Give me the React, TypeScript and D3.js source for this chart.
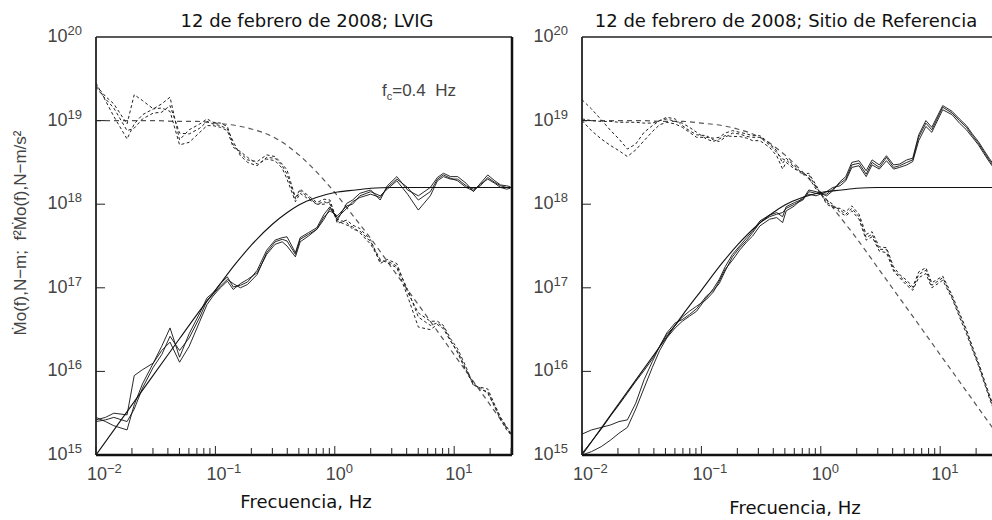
import * as React from 'react';
import * as d3 from 'd3';

// LVIG station: frequencies (Hz) and log10 amplitudes
const lvigFreq = [0.01, 0.012, 0.0141, 0.0182, 0.0209, 0.0245, 0.0302, 0.0355, 0.0417, 0.0501, 0.0603, 0.0741, 0.0851, 0.0955, 0.11, 0.126, 0.141, 0.162, 0.186, 0.224, 0.269, 0.316, 0.363, 0.398, 0.468, 0.513, 0.603, 0.708, 0.813, 0.912, 1.05, 1.26, 1.41, 1.62, 2.0, 2.4, 2.75, 3.31, 4.07, 5.01, 6.31, 7.24, 8.13, 9.33, 10.7, 12.6, 14.5, 16.6, 19.1, 21.9, 24.5, 27.5, 29.5];
// f²Ṁo(f), three components
const lvigAccA = [15.42, 15.45, 15.5, 15.48, 15.95, 16.02, 16.1, 16.3, 16.52, 16.17, 16.45, 16.7, 16.88, 16.94, 17.05, 17.13, 17.01, 17.03, 17.07, 17.21, 17.45, 17.57, 17.6, 17.61, 17.42, 17.6, 17.66, 17.72, 17.88, 17.97, 17.81, 18.01, 18.05, 18.13, 18.17, 18.05, 18.22, 18.33, 18.17, 18.1, 18.2, 18.32, 18.37, 18.33, 18.33, 18.25, 18.15, 18.25, 18.35, 18.28, 18.23, 18.22, 18.21];
const lvigAccB = [15.45, 15.4, 15.35, 15.3, 15.6, 15.85, 16.1, 16.25, 16.35, 16.11, 16.3, 16.6, 16.8, 16.9, 17.0, 17.08, 16.98, 17.05, 17.1, 17.18, 17.4, 17.52, 17.55, 17.5, 17.37, 17.55, 17.62, 17.7, 17.85, 17.92, 17.86, 17.98, 18.0, 18.1, 18.15, 18.1, 18.18, 18.28, 18.12, 17.93, 18.1, 18.28, 18.33, 18.3, 18.3, 18.22, 18.18, 18.22, 18.32, 18.26, 18.22, 18.2, 18.2];
const lvigAccC = [15.4, 15.42, 15.45, 15.4, 15.55, 15.8, 16.05, 16.2, 16.42, 16.25, 16.4, 16.65, 16.85, 16.92, 17.02, 17.1, 17.05, 17.0, 17.04, 17.16, 17.42, 17.55, 17.58, 17.56, 17.4, 17.58, 17.64, 17.7, 17.82, 17.95, 17.84, 17.95, 18.03, 18.08, 18.12, 18.08, 18.2, 18.3, 18.2, 18.05, 18.15, 18.3, 18.35, 18.31, 18.28, 18.2, 18.16, 18.24, 18.3, 18.25, 18.2, 18.18, 18.19];
// Ṁo(f), three components
const lvigDispA = [19.42, 19.29, 19.2, 18.96, 19.31, 19.24, 19.14, 19.2, 19.28, 18.77, 18.89, 18.96, 19.02, 18.98, 18.97, 18.93, 18.71, 18.61, 18.53, 18.51, 18.59, 18.57, 18.48, 18.41, 18.08, 18.18, 18.1, 18.02, 18.06, 18.05, 17.77, 17.81, 17.75, 17.71, 17.57, 17.29, 17.34, 17.29, 16.95, 16.7, 16.6, 16.6, 16.55, 16.39, 16.27, 16.05, 15.83, 15.81, 15.79, 15.6, 15.45, 15.34, 15.27];
const lvigDispB = [19.45, 19.24, 19.05, 18.78, 18.96, 19.07, 19.14, 19.15, 19.11, 18.71, 18.74, 18.86, 18.94, 18.94, 18.92, 18.88, 18.68, 18.63, 18.56, 18.48, 18.54, 18.52, 18.43, 18.3, 18.03, 18.13, 18.06, 18.0, 18.03, 18.0, 17.82, 17.78, 17.7, 17.68, 17.55, 17.34, 17.3, 17.24, 16.9, 16.53, 16.5, 16.56, 16.51, 16.36, 16.24, 16.02, 15.86, 15.78, 15.76, 15.58, 15.44, 15.32, 15.26];
const lvigDispC = [19.4, 19.26, 19.15, 18.88, 18.91, 19.02, 19.09, 19.1, 19.18, 18.85, 18.84, 18.91, 18.99, 18.96, 18.94, 18.9, 18.75, 18.58, 18.5, 18.46, 18.56, 18.55, 18.46, 18.36, 18.06, 18.16, 18.08, 18.0, 18.0, 18.03, 17.8, 17.75, 17.73, 17.66, 17.52, 17.32, 17.32, 17.26, 16.98, 16.65, 16.55, 16.58, 16.53, 16.37, 16.22, 16.0, 15.84, 15.8, 15.74, 15.57, 15.42, 15.3, 15.25];

// reference site
const refFreq = [0.01, 0.012, 0.0145, 0.0174, 0.0204, 0.024, 0.0282, 0.0331, 0.0389, 0.0447, 0.0513, 0.0603, 0.0692, 0.0794, 0.0912, 0.11, 0.126, 0.141, 0.158, 0.182, 0.209, 0.24, 0.269, 0.309, 0.372, 0.427, 0.479, 0.513, 0.603, 0.708, 0.794, 0.912, 1.12, 1.26, 1.45, 1.62, 1.82, 2.09, 2.4, 2.69, 3.09, 3.55, 4.07, 4.57, 5.25, 5.89, 6.61, 7.59, 8.51, 10.5, 12.6, 14.5, 16.6, 18.6, 20.9, 22.9, 25.7, 28.2, 30.9];
const refAccA = [15.02, 15.16, 15.31, 15.47, 15.6, 15.74, 15.88, 16.01, 16.15, 16.3, 16.46, 16.58, 16.62, 16.68, 16.75, 16.9, 16.97, 17.05, 17.2, 17.37, 17.48, 17.57, 17.66, 17.78, 17.85, 17.88, 17.9, 17.95, 18.0, 18.05, 18.15, 18.13, 18.12, 18.18, 18.25, 18.3, 18.47, 18.49, 18.36, 18.5, 18.44, 18.56, 18.44, 18.46, 18.5, 18.53, 18.8, 18.97, 18.89, 19.16, 19.09, 19.0, 18.92, 18.82, 18.73, 18.64, 18.53, 18.45, 18.38];
const refAccB = [15.25, 15.3, 15.33, 15.36, 15.4, 15.42, 15.62, 15.9, 16.12, 16.3, 16.44, 16.55, 16.65, 16.72, 16.78, 16.86, 16.95, 17.08, 17.22, 17.33, 17.45, 17.55, 17.62, 17.74, 17.82, 17.84, 17.78, 17.92, 17.98, 18.08, 18.12, 18.1, 18.15, 18.2, 18.22, 18.28, 18.44, 18.46, 18.33, 18.47, 18.42, 18.52, 18.42, 18.44, 18.47, 18.51, 18.76, 18.93, 18.86, 19.13, 19.07, 18.97, 18.89, 18.8, 18.71, 18.62, 18.51, 18.43, 18.36];
const refAccC = [15.0, 15.04, 15.1, 15.18, 15.26, 15.33, 15.55, 15.8, 16.05, 16.25, 16.4, 16.52, 16.6, 16.66, 16.72, 16.88, 16.99, 17.1, 17.25, 17.4, 17.5, 17.6, 17.68, 17.8, 17.87, 17.9, 17.85, 17.97, 18.02, 18.06, 18.17, 18.15, 18.1, 18.16, 18.27, 18.33, 18.5, 18.52, 18.4, 18.53, 18.47, 18.58, 18.47, 18.48, 18.53, 18.55, 18.83, 19.0, 18.92, 19.18, 19.11, 19.02, 18.94, 18.84, 18.75, 18.66, 18.55, 18.47, 18.4];
const refDispA = [19.02, 19.0, 18.99, 18.99, 18.98, 18.98, 18.98, 18.97, 18.97, 19.0, 19.04, 19.02, 18.94, 18.88, 18.83, 18.82, 18.77, 18.75, 18.8, 18.85, 18.84, 18.81, 18.8, 18.8, 18.71, 18.62, 18.54, 18.53, 18.44, 18.35, 18.35, 18.21, 18.02, 17.98, 17.93, 17.88, 17.95, 17.85, 17.6, 17.64, 17.46, 17.46, 17.22, 17.14, 17.06, 16.99, 17.16, 17.21, 17.03, 17.12, 16.89, 16.68, 16.48, 16.28, 16.09, 15.92, 15.71, 15.55, 15.4];
const refDispB = [19.25, 19.14, 19.01, 18.88, 18.78, 18.66, 18.72, 18.86, 18.94, 19.0, 19.02, 18.99, 18.97, 18.92, 18.86, 18.78, 18.75, 18.78, 18.82, 18.81, 18.81, 18.79, 18.76, 18.76, 18.68, 18.58, 18.42, 18.5, 18.42, 18.38, 18.32, 18.18, 18.05, 18.0, 17.9, 17.86, 17.92, 17.82, 17.57, 17.61, 17.44, 17.42, 17.2, 17.12, 17.03, 16.97, 17.12, 17.17, 17.0, 17.09, 16.87, 16.65, 16.45, 16.26, 16.07, 15.9, 15.69, 15.53, 15.38];
const refDispC = [19.0, 18.88, 18.78, 18.7, 18.64, 18.57, 18.65, 18.76, 18.87, 18.95, 18.98, 18.96, 18.92, 18.86, 18.8, 18.8, 18.79, 18.8, 18.85, 18.88, 18.86, 18.84, 18.82, 18.82, 18.73, 18.64, 18.49, 18.55, 18.46, 18.36, 18.37, 18.23, 18.0, 17.96, 17.95, 17.91, 17.98, 17.88, 17.64, 17.67, 17.49, 17.48, 17.25, 17.16, 17.09, 17.01, 17.19, 17.24, 17.06, 17.14, 16.91, 16.7, 16.5, 16.3, 16.11, 15.94, 15.73, 15.57, 15.42];

// Brune model, fc = 0.4 Hz (same in both panels)
const modelFreq = [0.01, 0.02, 0.03, 0.05, 0.07, 0.1, 0.15, 0.2, 0.3, 0.4, 0.5, 0.7, 1, 1.5, 2, 3, 5, 7, 10, 15, 20, 30];
const modelDisp = [19.0, 19.0, 19.0, 18.99, 18.99, 18.97, 18.94, 18.9, 18.81, 18.7, 18.59, 18.39, 18.14, 17.82, 17.59, 17.24, 16.8, 16.51, 16.2, 15.85, 15.6, 15.25];
const modelAcc = [15.0, 15.6, 15.95, 16.39, 16.68, 16.97, 17.3, 17.51, 17.76, 17.9, 17.99, 18.08, 18.14, 18.17, 18.19, 18.2, 18.2, 18.2, 18.2, 18.2, 18.2, 18.2];

const xMajor = [0.01, 0.1, 1, 10];
const xMajorLabels = ['\u22122', '\u22121', '0', '1'];
const yMajor = [1e15, 1e16, 1e17, 1e18, 1e19, 1e20];
const yMajorLabels = ['15', '16', '17', '18', '19', '20'];

const TOP = 37;
const BOTTOM = 455;
const tickFont = '"Liberation Sans", Arial, sans-serif';
const titleFont = '"DejaVu Sans", Verdana, sans-serif';

type PanelProps = {
  id: string;
  x0: number;
  title: string;
  titleX: number;
  xLabelX: number;
  xLabelY: number;
  freq: number[];
  acc: number[][];
  disp: number[][];
  showFc?: boolean;
};

const Panel = ({ id, x0, title, titleX, xLabelX, xLabelY, freq, acc, disp, showFc }: PanelProps) => {
  const x = d3.scaleLog().domain([0.01, 30.5]).range([x0, x0 + 416]);
  const y = d3.scaleLog().domain([1e15, 1e20]).range([BOTTOM, TOP]);

  const line = d3.line<[number, number]>()
    .x(d => x(d[0]))
    .y(d => y(Math.pow(10, d[1])));
  const smooth = d3.line<[number, number]>()
    .x(d => x(d[0]))
    .y(d => y(Math.pow(10, d[1])))
    .curve(d3.curveMonotoneX);

  const pts = (f: number[], v: number[]) => f.map((ff, i) => [ff, v[i]] as [number, number]);
  const minor = x.ticks().filter(t => t <= 30.5);
  const x1 = x0 + 416;

  return (
    <g>
      <defs>
        <clipPath id={id}>
          <rect x={x0} y={TOP} width={416} height={BOTTOM - TOP} />
        </clipPath>
      </defs>

      <text x={titleX} y={27} textAnchor="middle" fontFamily={titleFont} fontSize={18} fill="#111">{title}</text>

      <g clipPath={`url(#${id})`}>
        <path d={smooth(pts(modelFreq, modelDisp)) || ''} fill="none" stroke="#555" strokeWidth={1.2} strokeDasharray="5,4" />
        {disp.map((v, i) => (
          <path key={'d' + i} d={line(pts(freq, v)) || ''} fill="none" stroke="#222" strokeWidth={1} strokeDasharray="3,2.5" />
        ))}
        <path d={smooth(pts(modelFreq, modelAcc)) || ''} fill="none" stroke="#111" strokeWidth={1.1} />
        {acc.map((v, i) => (
          <path key={'a' + i} d={line(pts(freq, v)) || ''} fill="none" stroke="#111" strokeWidth={0.9} />
        ))}
      </g>

      {/* frame */}
      <line x1={x0} x2={x1} y1={TOP} y2={TOP} stroke="#222" strokeWidth={1.5} />
      <line x1={x0} x2={x0} y1={TOP} y2={BOTTOM} stroke="#222" strokeWidth={1.8} />
      <line x1={x1} x2={x1} y1={TOP} y2={BOTTOM} stroke="#111" strokeWidth={2.5} />
      <line x1={x0} x2={x1} y1={BOTTOM} y2={BOTTOM} stroke="#111" strokeWidth={2.5} />

      {minor.map((t, i) => {
        const isMajor = Math.abs(Math.log10(t) - Math.round(Math.log10(t))) < 1e-6;
        return <line key={'xt' + i} x1={x(t)} x2={x(t)} y1={BOTTOM} y2={BOTTOM - (isMajor ? 9 : 7)} stroke="#222" strokeWidth={1} />;
      })}
      {xMajor.map((t, i) => (
        <text key={'xl' + i} x={x(t) - 9} y={480} fontFamily={tickFont} fontSize={18} fill="#444">
          10<tspan dy={-7} fontSize={13}>{xMajorLabels[i]}</tspan>
        </text>
      ))}

      {yMajor.slice(1, 5).map((t, i) => (
        <line key={'yt' + i} x1={x0} x2={x0 + 9} y1={y(t)} y2={y(t)} stroke="#222" strokeWidth={1} />
      ))}
      {yMajor.map((t, i) => (
        <text key={'yl' + i} x={x0 - 14} y={y(t) + 5} textAnchor="end" fontFamily={tickFont} fontSize={18} fill="#444">
          10<tspan dy={-7} fontSize={13}>{yMajorLabels[i]}</tspan>
        </text>
      ))}

      {showFc && (
        <text x={x0 + 286} y={96} fontFamily={tickFont} fontSize={17} fill="#444">
          f<tspan dy={4} fontSize={11}>c</tspan><tspan dy={-4}>{'=0.4\u00A0\u00A0Hz'}</tspan>
        </text>
      )}

      <text x={xLabelX} y={xLabelY} textAnchor="middle" fontFamily={titleFont} fontSize={18} fill="#111">Frecuencia, Hz</text>
    </g>
  );
};

const App = () => {
  return (
    <svg width={992} height={520} style={{ position: 'absolute', left: 0, top: 0, background: '#fff' }}>
      <rect width={992} height={520} fill="#fff" />
      <text transform="translate(26,233) rotate(-90)" textAnchor="middle" fontFamily={tickFont} fontSize={17} fill="#444">
        {'\u1E40o(f),N\u2212m;\u00A0\u00A0f\u00B2\u1E40o(f),N\u2212m/s\u00B2'}
      </text>
      <Panel
        id="clipLeft" x0={96} title="12 de febrero de 2008; LVIG" titleX={307}
        xLabelX={306} xLabelY={508}
        freq={lvigFreq} acc={[lvigAccA, lvigAccB, lvigAccC]} disp={[lvigDispA, lvigDispB, lvigDispC]} showFc
      />
      <Panel
        id="clipRight" x0={582} title="12 de febrero de 2008; Sitio de Referencia" titleX={786}
        xLabelX={795} xLabelY={514}
        freq={refFreq} acc={[refAccA, refAccB, refAccC]} disp={[refDispA, refDispB, refDispC]}
      />
    </svg>
  );
};

export default App;
